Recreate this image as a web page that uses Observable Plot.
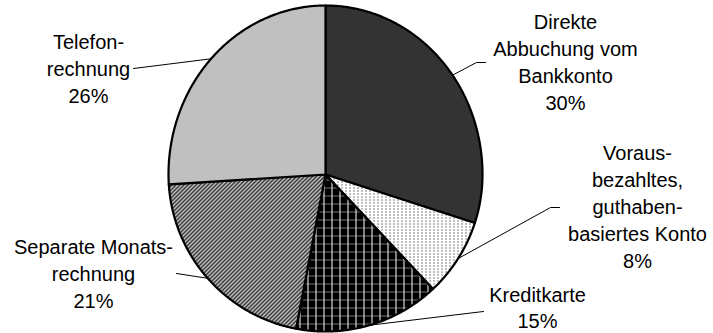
<!DOCTYPE html>
<html>
<head>
<meta charset="utf-8">
<script src="https://cdn.jsdelivr.net/npm/d3@7"></script>
<script src="https://cdn.jsdelivr.net/npm/@observablehq/plot@0.6"></script>
<style>
  html, body { margin: 0; padding: 0; background: #fff; }
  #chart svg { display: block; }
</style>
</head>
<body>
<div id="chart"></div>
<script>
// Zahlungsarten: Anteile in Prozent, im Uhrzeigersinn ab 12 Uhr
const categories = [
  "Direkte Abbuchung vom Bankkonto",
  "Vorausbezahltes, guthabenbasiertes Konto",
  "Kreditkarte",
  "Separate Monatsrechnung",
  "Telefonrechnung"
];
const shares = [30, 8, 15, 21, 26];
const labelLines = [
  ["Direkte", "Abbuchung vom", "Bankkonto"],
  ["Voraus-", "bezahltes,", "guthaben-", "basiertes Konto"],
  ["Kreditkarte"],
  ["Separate Monats-", "rechnung"],
  ["Telefon-", "rechnung"]
];

// Styles (fills refer to the SVG patterns defined below)
const sliceFills = ["#333333", "url(#dots)", "url(#grid)", "url(#hatch)", "#c0c0c0"];

// Layout of the pie and its labels (pixel units)
const W = 713, H = 333;
const pie = {cx: 325, cy: 174, rx: 157, ryTop: 169, ryBottom: 157};
const labelAnchor = [[565, 9], [637, 140], [537, 283], [93, 234], [88, 29]];
const labelLineHeight = [1.35, 1.35, 1.3, 1.35, 1.35];
const leaderElbows = [
  [[476, 62], [485, 62]],
  [[550, 207], [559, 207]],
  [[483, 311]],
  [[176, 273]],
  [[133, 68]]
];

// Point on the rim for an angle measured clockwise from 12 o'clock
function rim(a) {
  const c = Math.cos(a);
  return [pie.cx + pie.rx * Math.sin(a), pie.cy - (c > 0 ? pie.ryTop : pie.ryBottom) * c];
}

const arcs = d3.pie().sort(null).value(d => d)(shares);

// Outline of each slice: centre, arc, back to centre
const slicePoints = arcs.flatMap((a, i) => {
  const n = Math.max(2, Math.ceil((a.endAngle - a.startAngle) / (Math.PI / 360)));
  const pts = [{key: categories[i], fill: sliceFills[i], x: pie.cx, y: pie.cy}];
  for (let k = 0; k <= n; ++k) {
    const [x, y] = rim(a.startAngle + (a.endAngle - a.startAngle) * k / n);
    pts.push({key: categories[i], fill: sliceFills[i], x, y});
  }
  return pts;
});

// Leader lines from the middle of each slice's arc to its label
const leaderPoints = arcs.flatMap((a, i) => {
  const [x0, y0] = rim((a.startAngle + a.endAngle) / 2);
  return [[x0, y0], ...leaderElbows[i]].map(([x, y]) => ({key: categories[i], x, y}));
});

const labels = arcs.map((a, i) => ({
  x: labelAnchor[i][0],
  y: labelAnchor[i][1],
  text: [...labelLines[i], `${shares[i]}%`].join("\n")
}));

const textStyle = {
  x: "x", y: "y", text: "text",
  fontSize: 20, lineAnchor: "top", textAnchor: "middle",
  fontFamily: "Liberation Sans", fill: "#000"
};

const svg = Plot.plot({
  width: W,
  height: H,
  margin: 0,
  x: {domain: [0, W], range: [0, W], axis: null},
  y: {domain: [0, H], range: [0, H], axis: null},
  color: {type: "identity"},
  style: {background: "#fff", overflow: "visible"},
  marks: [
    Plot.line(slicePoints, {
      x: "x", y: "y", z: "key", fill: "fill",
      stroke: "#000", strokeWidth: 2.2, strokeLinejoin: "round",
      curve: "linear-closed"
    }),
    Plot.line(leaderPoints, {
      x: "x", y: "y", z: "key", stroke: "#000", strokeWidth: 1
    }),
    // one text mark per line height, so the Kreditkarte block can sit a little tighter
    ...[...new Set(labelLineHeight)].map(lh =>
      Plot.text(labels.filter((d, i) => labelLineHeight[i] === lh), {...textStyle, lineHeight: lh})
    )
  ]
});

// Fill patterns for the textured slices
const defs = d3.select(svg).insert("defs", ":first-child");

const dots = defs.append("pattern").attr("id", "dots")
  .attr("patternUnits", "userSpaceOnUse").attr("width", 4).attr("height", 3);
dots.append("rect").attr("width", 4).attr("height", 3).attr("fill", "#fff");
dots.append("rect").attr("x", 1).attr("y", 1).attr("width", 1).attr("height", 1).attr("fill", "#000");

const grid = defs.append("pattern").attr("id", "grid")
  .attr("patternUnits", "userSpaceOnUse").attr("width", 8).attr("height", 8);
grid.append("rect").attr("width", 8).attr("height", 8).attr("fill", "#000");
grid.append("rect").attr("x", 0).attr("y", 3).attr("width", 8).attr("height", 1).attr("fill", "#6e6e6e");
grid.append("rect").attr("x", 3).attr("y", 0).attr("width", 1).attr("height", 8).attr("fill", "#fff");

const hatch = defs.append("pattern").attr("id", "hatch")
  .attr("patternUnits", "userSpaceOnUse").attr("width", 4).attr("height", 4);
hatch.append("rect").attr("width", 4).attr("height", 4).attr("fill", "#fff");
hatch.append("path").attr("d", "M-1,1L1,-1M0,4L4,0M3,5L5,3")
  .attr("stroke", "#000").attr("stroke-width", 1.5);

document.getElementById("chart").append(svg);
</script>
</body>
</html>
